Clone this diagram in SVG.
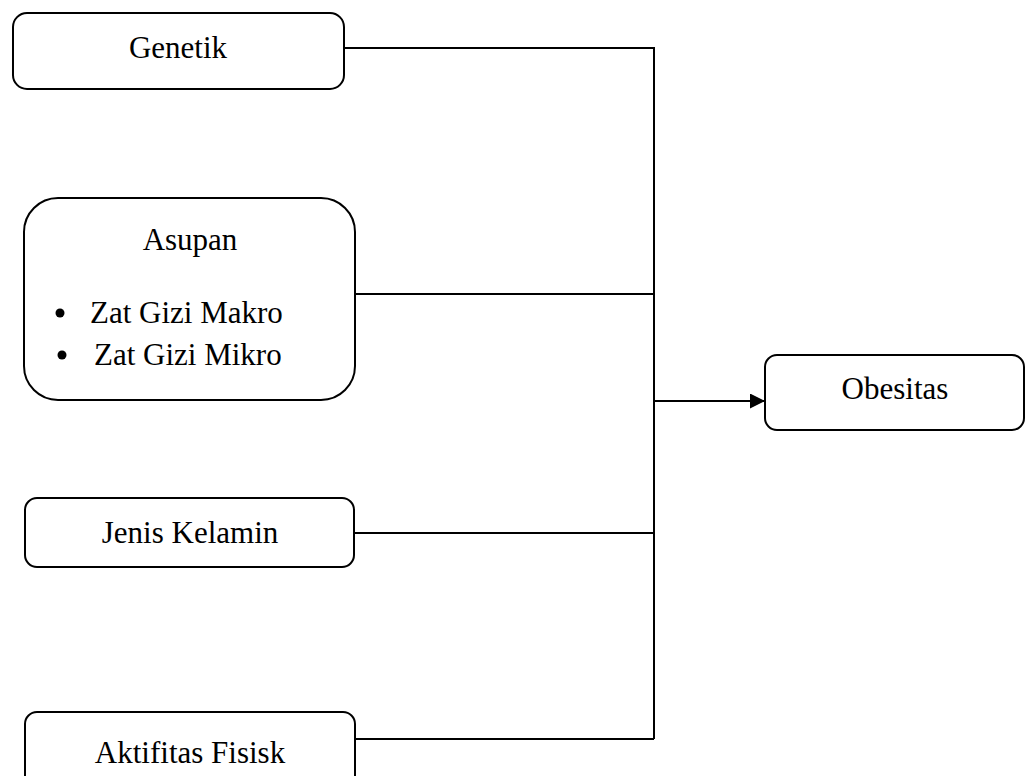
<svg xmlns="http://www.w3.org/2000/svg" width="1026" height="776" viewBox="0 0 1026 776">
<style>
.box{fill:#fff;stroke:#000;stroke-width:2}
.t{font-family:"Liberation Serif","Times New Roman",serif;font-size:31px;fill:#000}
.c{text-anchor:middle}
.ln{fill:none;stroke:#000;stroke-width:2}
</style>
<defs>
<marker id="ah" markerWidth="15" markerHeight="15" refX="15" refY="7.5" orient="auto" markerUnits="userSpaceOnUse">
<path d="M0,0 L15,7.5 L0,15 Z" fill="#000"/>
</marker>
</defs>
<g id="connectors">
<path class="ln" d="M344,48 H654 V739"/>
<path class="ln" d="M355,294 H654"/>
<path class="ln" d="M355,533 H654"/>
<path class="ln" d="M355,739 H654"/>
<path class="ln" d="M654,401 H765" marker-end="url(#ah)"/>
</g>
<g id="genetik">
<rect class="box" x="13" y="13" width="331" height="76" rx="14"/>
<text class="t c" x="178" y="58">Genetik</text>
</g>
<g id="asupan">
<rect class="box" x="24" y="198" width="331" height="202" rx="34"/>
<text class="t c" x="190" y="250">Asupan</text>
<circle cx="60" cy="313" r="4.5"/>
<text class="t" x="90" y="323">Zat Gizi Makro</text>
<circle cx="62" cy="355" r="4.5"/>
<text class="t" x="94" y="365">Zat Gizi Mikro</text>
</g>
<g id="jenis">
<rect class="box" x="25" y="498" width="329" height="69" rx="12"/>
<text class="t c" x="190" y="543">Jenis Kelamin</text>
</g>
<g id="aktifitas">
<rect class="box" x="25" y="712" width="330" height="80" rx="12"/>
<text class="t c" x="190" y="763">Aktifitas Fisisk</text>
</g>
<g id="obesitas">
<rect class="box" x="765" y="355" width="259" height="75" rx="12"/>
<text class="t c" x="895" y="399">Obesitas</text>
</g>
</svg>
